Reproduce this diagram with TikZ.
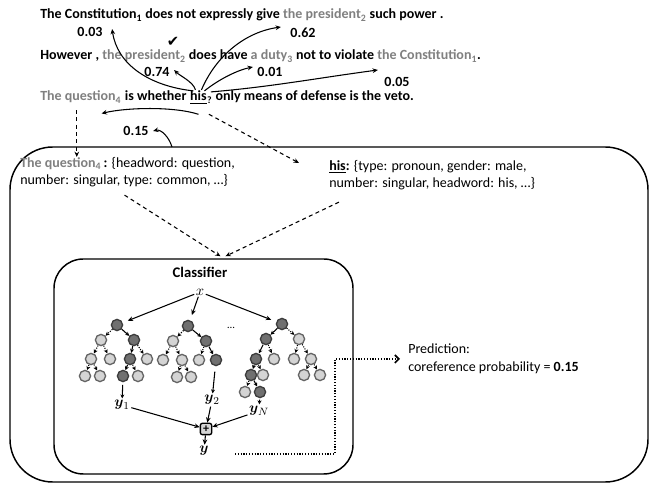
\documentclass[tikz,border=0pt]{standalone}
\usepackage{amsmath}
\usepackage{fontspec}
\setmainfont{Carlito}
\newfontfamily\symf{DejaVu Sans}
\usetikzlibrary{arrows.meta,calc}
\definecolor{txtgray}{RGB}{128,128,128}
\definecolor{dkfill}{RGB}{112,112,112}
\definecolor{dkline}{RGB}{60,60,60}
\definecolor{ltfill}{RGB}{212,212,212}
\definecolor{ltline}{RGB}{100,100,100}
\begin{document}
\begin{tikzpicture}[x=0.75pt,y=-0.75pt,
  sent/.style={font=\fontsize{10.5}{12}\selectfont\bfseries, inner sep=0pt, anchor=base west},
  num/.style={font=\fontsize{10.5}{12}\selectfont\bfseries, inner sep=1pt},
  feat/.style={font=\fontsize{10.5}{12.8}\selectfont, align=left, inner sep=0pt, anchor=north west},
  arr/.style={-{Stealth[length=4pt,width=3.5pt]}, line width=0.8pt},
  dsh/.style={-{Stealth[length=4pt,width=3.5pt]}, line width=0.8pt, dash pattern=on 3pt off 2.5pt},
  dotarr/.style={-{Straight Barb[length=3pt,width=6pt,line width=1.2pt]}, line width=1.3pt, dash pattern=on 0.9pt off 1.2pt},
  box/.style={draw, line width=1.1pt, inner sep=0pt},
  dk/.style={circle, draw=dkline, fill=dkfill, line width=1pt, minimum size=8.4pt, inner sep=0pt},
  lt/.style={circle, draw=ltline, fill=ltfill, line width=1pt, minimum size=8.4pt, inner sep=0pt},
  tsol/.style={-{Stealth[length=3pt,width=3pt]}, line width=0.8pt},
  tdot/.style={-{Stealth[length=3pt,width=3pt]}, line width=0.8pt, dash pattern=on 0.8pt off 1pt},
  ylab/.style={inner sep=1pt, font=\fontsize{11}{12}\selectfont}
]
\useasboundingbox (0,0) rectangle (651,488);

% boxes
\node[box, rounded corners=32pt, minimum width=478.5pt, minimum height=251.25pt] (outer) at (329,314.5) {};
\node[box, rounded corners=22pt, minimum width=224.25pt, minimum height=161.25pt] (clf) at (203.5,366.5) {};

% sentences
\node[sent] (s1) at (40,19) {The Constitution\textsubscript{1} does not expressly give {\color{txtgray}the president\textsubscript{2}} such power .};
\node[sent] (s2) at (40,60) {However , {\color{txtgray}the president\textsubscript{2}} does have {\color{txtgray}a duty\textsubscript{3}} not to violate {\color{txtgray}the Constitution\textsubscript{1}}.};
\node[sent] (q3) at (40,101) {\color{txtgray}The question\textsubscript{4}};
\node[sent] (w3) at (q3.base east) {\ is whether\ \null};
\node[sent] (his) at (w3.base east) {\underline{his}};
\node[sent] (r3) at (his.base east) {\textsubscript{?} only means of defense is the veto.};

% scores
\node[num] (n003) at (90,32) {0.03};
\node[num] (n062) at (303,33) {0.62};
\node[num] (n074) at (157,72) {0.74};
\node[num] (n001) at (270,72) {0.01};
\node[num] (n005) at (397,82) {0.05};
\node[num] (n015) at (136,131) {0.15};
\node[inner sep=0pt] (chk) at (173,42) {\symf\fontsize{11}{12}\selectfont ✔};

\draw[arr] ($(his.north)+(-5,0)$) .. controls +(-45,-5) and +(5,35) .. ($(n003.east)+(8,-3)$);
\draw[arr] ($(his.north)+(3,-1)$) .. controls +(15,-35) and +(-35,5) .. ($(n062.west)+(-8,-6)$);
\draw[arr] ($(his.north)+(-3,-1)$) .. controls +(-2,-8) and +(6,6) .. ($(n074.east)+(3,-2)$);
\draw[arr] ($(his.north)+(6,0)$) .. controls +(15,-12) and +(-15,3) .. ($(n001.west)+(-3,-5)$);
\draw[arr] ($(his.north east)+(4,1)$) .. controls +(60,-5) and +(-60,8) .. ($(n005.west)+(-5,-12)$);
\draw[arr] ($(his.south)+(0,10)$) .. controls +(-25,-8) and +(25,-6) .. ($(q3.south east)+(-20,10)$);
\coordinate (c015) at (172,147);
\draw[arr] (c015) .. controls +(-3,-10) and +(8,-2) .. ($(n015.east)+(3,0)$);

% feature descriptions
\node[feat] (f1) at (20,157) {{\bfseries\color{txtgray}The question\textsubscript{4}}\textbf{\,:} \{headword: question,\\number: singular, type: common, …\}};
\node[feat] (f2) at (329,160) {\textbf{\underline{his}:} \{type: pronoun, gender: male,\\number: singular, headword: his, …\}};

\draw[dsh] ([xshift=-3pt,yshift=-5pt]q3.south) -- ([xshift=-3pt]q3.south |- f1.north);
\draw[dsh] ($(his.south east)+(2,10)$) -- ($(f2.north west)+(-30,3)$);
\draw[dsh] ($(f1.south)+(-3,8)$) -- ($(clf.north)+(17,-2)$);
\draw[dsh] ($(f2.south west)+(10,12)$) -- ($(clf.north)+(22,-2)$);

% classifier
\node[font=\fontsize{11}{12}\selectfont\bfseries] (clabel) at (200,272) {Classifier};
\node[inner sep=1pt, font=\fontsize{11}{12}\selectfont] (x) at (200,292) {$x$};
\node[font=\fontsize{8}{8}\selectfont, inner sep=0pt] (dots) at (231,328) {…};

% tree 1
\node[dk] (t1r) at (117,325) {};
\node[lt] (t1a) at (101,340) {};
\node[dk] (t1b) at (134,340) {};
\node[lt] (t1aa) at (91,359) {};
\node[lt] (t1ab) at (110,359) {};
\node[dk] (t1ba) at (130,359) {};
\node[lt] (t1bb) at (147,359) {};
\node[lt] (t1aaa) at (85,376) {};
\node[lt] (t1aab) at (100,376) {};
\node[dk] (t1baa) at (123,376) {};
\node[lt] (t1bab) at (138,376) {};
% tree 2
\node[dk] (t2r) at (188,326) {};
\node[lt] (t2a) at (173,341) {};
\node[dk] (t2b) at (206,341) {};
\node[lt] (t2aa) at (163,360) {};
\node[lt] (t2ab) at (182,360) {};
\node[lt] (t2ba) at (199,360) {};
\node[dk] (t2bb) at (216,360) {};
\node[lt] (t2aba) at (177,377) {};
\node[lt] (t2abb) at (191,377) {};
% tree 3
\node[dk] (t3r) at (282,324) {};
\node[dk] (t3a) at (266,339) {};
\node[lt] (t3b) at (299,339) {};
\node[dk] (t3aa) at (256,359) {};
\node[lt] (t3ab) at (274,359) {};
\node[lt] (t3ba) at (294,359) {};
\node[lt] (t3bb) at (311,359) {};
\node[dk] (t3aaa) at (251,375) {};
\node[lt] (t3aab) at (263,375) {};
\node[lt] (t3bba) at (304,375) {};
\node[lt] (t3bbb) at (320,375) {};
\node[lt] (t3aaaa) at (245,392) {};
\node[dk] (t3aaab) at (260,392) {};

\foreach \a/\b in {t1r/t1b, t1b/t1ba, t1ba/t1baa, t2r/t2b, t2b/t2bb, t3r/t3a, t3a/t3aa, t3aa/t3aaa, t3aaa/t3aaab}
  \draw[tsol] (\a) -- (\b);
\foreach \a/\b in {t1r/t1a, t1a/t1aa, t1a/t1ab, t1b/t1bb, t1aa/t1aaa, t1aa/t1aab, t1ba/t1bab,
  t2r/t2a, t2a/t2aa, t2a/t2ab, t2b/t2ba, t2ab/t2aba, t2ab/t2abb,
  t3r/t3b, t3a/t3ab, t3b/t3ba, t3b/t3bb, t3aa/t3aab, t3bb/t3bba, t3bb/t3bbb, t3aaa/t3aaaa}
  \draw[tdot] (\a) -- (\b);

\draw[arr, shorten >=4pt] (x) -- (t1r);
\draw[arr, shorten >=4pt] (x) -- (t2r);
\draw[arr, shorten >=4pt] (x) -- (t3r);

% outputs
\node[ylab] (y1) at (122,405) {$\boldsymbol{y}_{1}$};
\node[ylab] (y2) at (212,400) {$\boldsymbol{y}_{2}$};
\node[ylab] (yN) at (259,411) {$\boldsymbol{y}_{N}$};
\node[ylab] (y) at (204,451) {$\boldsymbol{y}$};
\node[draw=black, rounded corners=1.5pt, fill=ltfill, line width=1pt, minimum size=8.5pt, inner sep=0pt, font=\fontsize{9}{9}\selectfont\bfseries] (plus) at (206,429) {+};

\draw[tsol, shorten <=2pt] (t1baa) -- (y1);
\draw[tsol, shorten <=4pt] (t2bb) -- (y2);
\draw[tsol, shorten <=1pt] (t3aaab) -- (yN);
\draw[arr] (y1) -- (plus);
\draw[arr] (y2) -- (plus);
\draw[arr] (yN) -- (plus);
\draw[arr] (plus) -- (y);

% prediction
\node[anchor=west, align=left, inner sep=0pt, font=\fontsize{10.5}{13.5}\selectfont] (pred) at (408,359) {Prediction:\\coreference probability = \textbf{0.15}};
\coordinate (dst) at (235,454);
\draw[dotarr] (dst) -| ($(pred.west)+(-73,0)$) -- ($(pred.west)+(-8,0)$);
\end{tikzpicture}
\end{document}
